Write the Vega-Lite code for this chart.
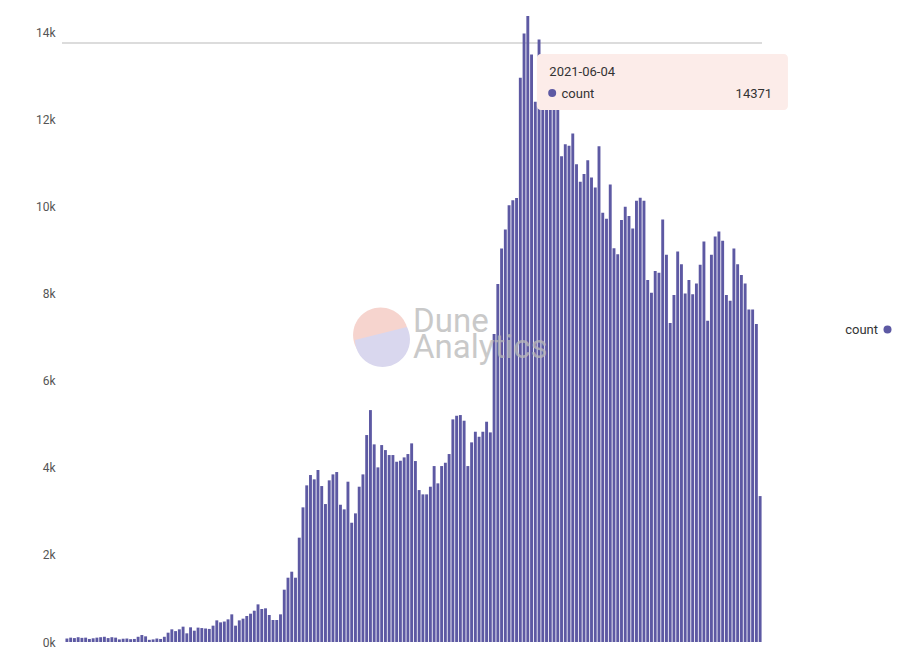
{
  "$schema": "https://vega.github.io/schema/vega-lite/v6.json",
  "width": 700,
  "height": 626,
  "autosize": {"type": "none"},
  "padding": {"left": 62, "top": 16, "right": 148, "bottom": 5},
  "background": "white",
  "config": {"view": {"stroke": null}, "font": "Roboto"},
  "data": {"values": [
    {"date":"2021-02-01","count":80},{"date":"2021-02-02","count":100},{"date":"2021-02-03","count":90},{"date":"2021-02-04","count":110},{"date":"2021-02-05","count":95},{"date":"2021-02-06","count":100},{"date":"2021-02-07","count":70},{"date":"2021-02-08","count":85},{"date":"2021-02-09","count":100},{"date":"2021-02-10","count":110},{"date":"2021-02-11","count":120},{"date":"2021-02-12","count":90},{"date":"2021-02-13","count":110},{"date":"2021-02-14","count":100},{"date":"2021-02-15","count":60},{"date":"2021-02-16","count":75},{"date":"2021-02-17","count":80},{"date":"2021-02-18","count":65},{"date":"2021-02-19","count":70},{"date":"2021-02-20","count":120},{"date":"2021-02-21","count":160},{"date":"2021-02-22","count":130},{"date":"2021-02-23","count":50},{"date":"2021-02-24","count":60},{"date":"2021-02-25","count":80},{"date":"2021-02-26","count":70},{"date":"2021-02-27","count":120},{"date":"2021-02-28","count":214},
    {"date":"2021-03-01","count":291},{"date":"2021-03-02","count":250},{"date":"2021-03-03","count":291},{"date":"2021-03-04","count":352},{"date":"2021-03-05","count":199},{"date":"2021-03-06","count":337},{"date":"2021-03-07","count":260},{"date":"2021-03-08","count":330},{"date":"2021-03-09","count":320},{"date":"2021-03-10","count":310},{"date":"2021-03-11","count":300},{"date":"2021-03-12","count":375},{"date":"2021-03-13","count":497},{"date":"2021-03-14","count":451},{"date":"2021-03-15","count":470},{"date":"2021-03-16","count":520},{"date":"2021-03-17","count":635},{"date":"2021-03-18","count":375},{"date":"2021-03-19","count":497},{"date":"2021-03-20","count":536},{"date":"2021-03-21","count":597},{"date":"2021-03-22","count":650},{"date":"2021-03-23","count":719},{"date":"2021-03-24","count":864},{"date":"2021-03-25","count":757},{"date":"2021-03-26","count":773},{"date":"2021-03-27","count":620},{"date":"2021-03-28","count":505},{"date":"2021-03-29","count":505},{"date":"2021-03-30","count":635},{"date":"2021-03-31","count":1201},
    {"date":"2021-04-01","count":1476},{"date":"2021-04-02","count":1614},{"date":"2021-04-03","count":1476},{"date":"2021-04-04","count":2395},{"date":"2021-04-05","count":3091},{"date":"2021-04-06","count":3596},{"date":"2021-04-07","count":3833},{"date":"2021-04-08","count":3734},{"date":"2021-04-09","count":3947},{"date":"2021-04-10","count":3580},{"date":"2021-04-11","count":3167},{"date":"2021-04-12","count":3711},{"date":"2021-04-13","count":3848},{"date":"2021-04-14","count":3902},{"date":"2021-04-15","count":3151},{"date":"2021-04-16","count":3045},{"date":"2021-04-17","count":3680},{"date":"2021-04-18","count":2738},{"date":"2021-04-19","count":2953},{"date":"2021-04-20","count":3565},{"date":"2021-04-21","count":3848},{"date":"2021-04-22","count":4751},{"date":"2021-04-23","count":5324},{"date":"2021-04-24","count":4537},{"date":"2021-04-25","count":4009},{"date":"2021-04-26","count":4521},{"date":"2021-04-27","count":4406},{"date":"2021-04-28","count":4292},{"date":"2021-04-29","count":4292},{"date":"2021-04-30","count":4138},
    {"date":"2021-05-01","count":4161},{"date":"2021-05-02","count":4238},{"date":"2021-05-03","count":4315},{"date":"2021-05-04","count":4560},{"date":"2021-05-05","count":4154},{"date":"2021-05-06","count":3488},{"date":"2021-05-07","count":3389},{"date":"2021-05-08","count":3389},{"date":"2021-05-09","count":3565},{"date":"2021-05-10","count":4039},{"date":"2021-05-11","count":3642},{"date":"2021-05-12","count":4039},{"date":"2021-05-13","count":4115},{"date":"2021-05-14","count":4315},{"date":"2021-05-15","count":5111},{"date":"2021-05-16","count":5194},{"date":"2021-05-17","count":5210},{"date":"2021-05-18","count":5080},{"date":"2021-05-19","count":4039},{"date":"2021-05-20","count":4583},{"date":"2021-05-21","count":4827},{"date":"2021-05-22","count":4712},{"date":"2021-05-23","count":4827},{"date":"2021-05-24","count":5057},{"date":"2021-05-25","count":4812},{"date":"2021-05-26","count":7069},{"date":"2021-05-27","count":8216},{"date":"2021-05-28","count":9035},{"date":"2021-05-29","count":9471},{"date":"2021-05-30","count":10029},{"date":"2021-05-31","count":10144},
    {"date":"2021-06-01","count":10190},{"date":"2021-06-02","count":12951},{"date":"2021-06-03","count":13970},{"date":"2021-06-04","count":14371},{"date":"2021-06-05","count":13488},{"date":"2021-06-06","count":12400},{"date":"2021-06-07","count":13832},{"date":"2021-06-08","count":12400},{"date":"2021-06-09","count":12350},{"date":"2021-06-10","count":12500},{"date":"2021-06-11","count":12300},{"date":"2021-06-12","count":12400},{"date":"2021-06-13","count":11154},{"date":"2021-06-14","count":11429},{"date":"2021-06-15","count":11391},{"date":"2021-06-16","count":11674},{"date":"2021-06-17","count":10970},{"date":"2021-06-18","count":10565},{"date":"2021-06-19","count":10741},{"date":"2021-06-20","count":11062},{"date":"2021-06-21","count":10664},{"date":"2021-06-22","count":10435},{"date":"2021-06-23","count":11383},{"date":"2021-06-24","count":9853},{"date":"2021-06-25","count":9716},{"date":"2021-06-26","count":10501},{"date":"2021-06-27","count":9042},{"date":"2021-06-28","count":8904},{"date":"2021-06-29","count":9685},{"date":"2021-06-30","count":9991},
    {"date":"2021-07-01","count":9777},{"date":"2021-07-02","count":9494},{"date":"2021-07-03","count":10128},{"date":"2021-07-04","count":10197},{"date":"2021-07-05","count":10128},{"date":"2021-07-06","count":8308},{"date":"2021-07-07","count":8017},{"date":"2021-07-08","count":8515},{"date":"2021-07-09","count":8476},{"date":"2021-07-10","count":9701},{"date":"2021-07-11","count":8889},{"date":"2021-07-12","count":7321},{"date":"2021-07-13","count":7964},{"date":"2021-07-14","count":8966},{"date":"2021-07-15","count":8673},{"date":"2021-07-16","count":8002},{"date":"2021-07-17","count":8308},{"date":"2021-07-18","count":7986},{"date":"2021-07-19","count":8231},{"date":"2021-07-20","count":8660},{"date":"2021-07-21","count":9194},{"date":"2021-07-22","count":7374},{"date":"2021-07-23","count":8889},{"date":"2021-07-24","count":9310},{"date":"2021-07-25","count":9425},{"date":"2021-07-26","count":9211},{"date":"2021-07-27","count":7964},{"date":"2021-07-28","count":7833},{"date":"2021-07-29","count":9035},{"date":"2021-07-30","count":8673},{"date":"2021-07-31","count":8423},
    {"date":"2021-08-01","count":8232},{"date":"2021-08-02","count":7635},{"date":"2021-08-03","count":7635},{"date":"2021-08-04","count":7298},{"date":"2021-08-05","count":3350}
  ]},
  "layer": [
    {
      "data": {"values": [{}]},
      "mark": {"type": "rule", "color": "#b9b9b9", "strokeWidth": 1},
      "encoding": {"y": {"datum": 13751, "type": "quantitative"}}
    },
    {
      "mark": {"type": "bar", "width": 2.9},
      "encoding": {
        "x": {
          "field": "date", "type": "temporal",
          "scale": {"type": "utc", "padding": 0, "nice": false, "domain": [
            {"year": 2021, "month": 1, "date": 30, "hours": 16, "minutes": 30, "utc": true},
            {"year": 2021, "month": 8, "date": 5, "hours": 12, "utc": true}
          ]},
          "axis": null
        },
        "y": {
          "field": "count", "type": "quantitative",
          "scale": {"domain": [0, 14371], "nice": false, "zero": true},
          "axis": {
            "title": null, "values": [0, 2000, 4000, 6000, 8000, 10000, 12000, 14000],
            "format": "~s", "ticks": false, "domain": false, "labelPadding": 7,
            "gridColor": "#ebebeb", "labelColor": "#555", "labelFontSize": 12, "labelFont": "Roboto"
          }
        },
        "color": {
          "datum": "count",
          "scale": {"range": ["#5d59a3"]},
          "legend": {
            "title": null, "orient": "none", "legendX": 819, "legendY": 307,
            "labelAlign": "right", "labelOffset": -16, "symbolType": "circle", "symbolSize": 64,
            "symbolStrokeWidth": 0, "labelFontSize": 13, "labelColor": "#333", "labelFont": "Roboto", "padding": 0
          }
        }
      }
    },
    {
      "data": {"values": [{}]},
      "mark": {"type": "point", "filled": true, "opacity": 1, "size": 3025, "color": "#f6d4ce", "strokeWidth": 0,
               "shape": "M -1 0 A 1 1 0 1 1 1 0 A 1 1 0 1 1 -1 0 Z"},
      "encoding": {
        "x": {"datum": {"year": 2021, "month": 4, "date": 25, "hours": 17, "utc": true}, "type": "temporal"},
        "y": {"datum": 7048, "type": "quantitative"}
      }
    },
    {
      "data": {"values": [{}]},
      "mark": {"type": "point", "filled": true, "opacity": 1, "size": 3025, "color": "#d9d7ee", "strokeWidth": 0,
               "shape": "M -0.93 0.18 L 0.96 -0.29 A 1 1 0 1 1 -0.93 0.18 Z"},
      "encoding": {
        "x": {"datum": {"year": 2021, "month": 4, "date": 25, "hours": 17, "utc": true}, "type": "temporal"},
        "y": {"datum": 7048, "type": "quantitative"}
      }
    },
    {
      "data": {"values": [{}]},
      "mark": {"type": "text", "text": "Dune", "align": "left", "baseline": "alphabetic", "fontSize": 33, "font": "Roboto", "color": "#b8b8b8", "opacity": 0.75},
      "encoding": {
        "x": {"datum": {"year": 2021, "month": 5, "date": 4, "hours": 9, "utc": true}, "type": "temporal"},
        "y": {"datum": 7117, "type": "quantitative"}
      }
    },
    {
      "data": {"values": [{}]},
      "mark": {"type": "text", "text": "Analytics", "align": "left", "baseline": "alphabetic", "fontSize": 33, "font": "Roboto", "color": "#b8b8b8", "opacity": 0.75},
      "encoding": {
        "x": {"datum": {"year": 2021, "month": 5, "date": 4, "hours": 9, "utc": true}, "type": "temporal"},
        "y": {"datum": 6520, "type": "quantitative"}
      }
    },
    {
      "data": {"values": [{}]},
      "mark": {"type": "rect", "color": "#fcece9", "cornerRadius": 4},
      "encoding": {
        "x": {"datum": {"year": 2021, "month": 6, "date": 6, "hours": 10, "utc": true}, "type": "temporal"},
        "x2": {"datum": {"year": 2021, "month": 8, "date": 12, "hours": 10, "utc": true}},
        "y": {"datum": 13498, "type": "quantitative"},
        "y2": {"datum": 12213}
      }
    },
    {
      "data": {"values": [{}]},
      "mark": {"type": "text", "text": "2021-06-04", "align": "left", "baseline": "alphabetic", "fontSize": 13, "font": "Roboto", "color": "#333"},
      "encoding": {
        "x": {"datum": {"year": 2021, "month": 6, "date": 9, "hours": 18, "utc": true}, "type": "temporal"},
        "y": {"datum": 12990, "type": "quantitative"}
      }
    },
    {
      "data": {"values": [{}]},
      "mark": {"type": "point", "shape": "circle", "filled": true, "opacity": 1, "size": 64, "color": "#5d59a3"},
      "encoding": {
        "x": {"datum": {"year": 2021, "month": 6, "date": 10, "hours": 12, "utc": true}, "type": "temporal"},
        "y": {"datum": 12603, "type": "quantitative"}
      }
    },
    {
      "data": {"values": [{}]},
      "mark": {"type": "text", "text": "count", "align": "left", "baseline": "alphabetic", "fontSize": 13, "font": "Roboto", "color": "#333"},
      "encoding": {
        "x": {"datum": {"year": 2021, "month": 6, "date": 13, "hours": 0, "utc": true}, "type": "temporal"},
        "y": {"datum": 12488, "type": "quantitative"}
      }
    },
    {
      "data": {"values": [{}]},
      "mark": {"type": "text", "text": "14371", "align": "right", "baseline": "alphabetic", "fontSize": 13, "font": "Roboto", "color": "#333"},
      "encoding": {
        "x": {"datum": {"year": 2021, "month": 8, "date": 8, "hours": 5, "utc": true}, "type": "temporal"},
        "y": {"datum": 12488, "type": "quantitative"}
      }
    }
  ]
}
